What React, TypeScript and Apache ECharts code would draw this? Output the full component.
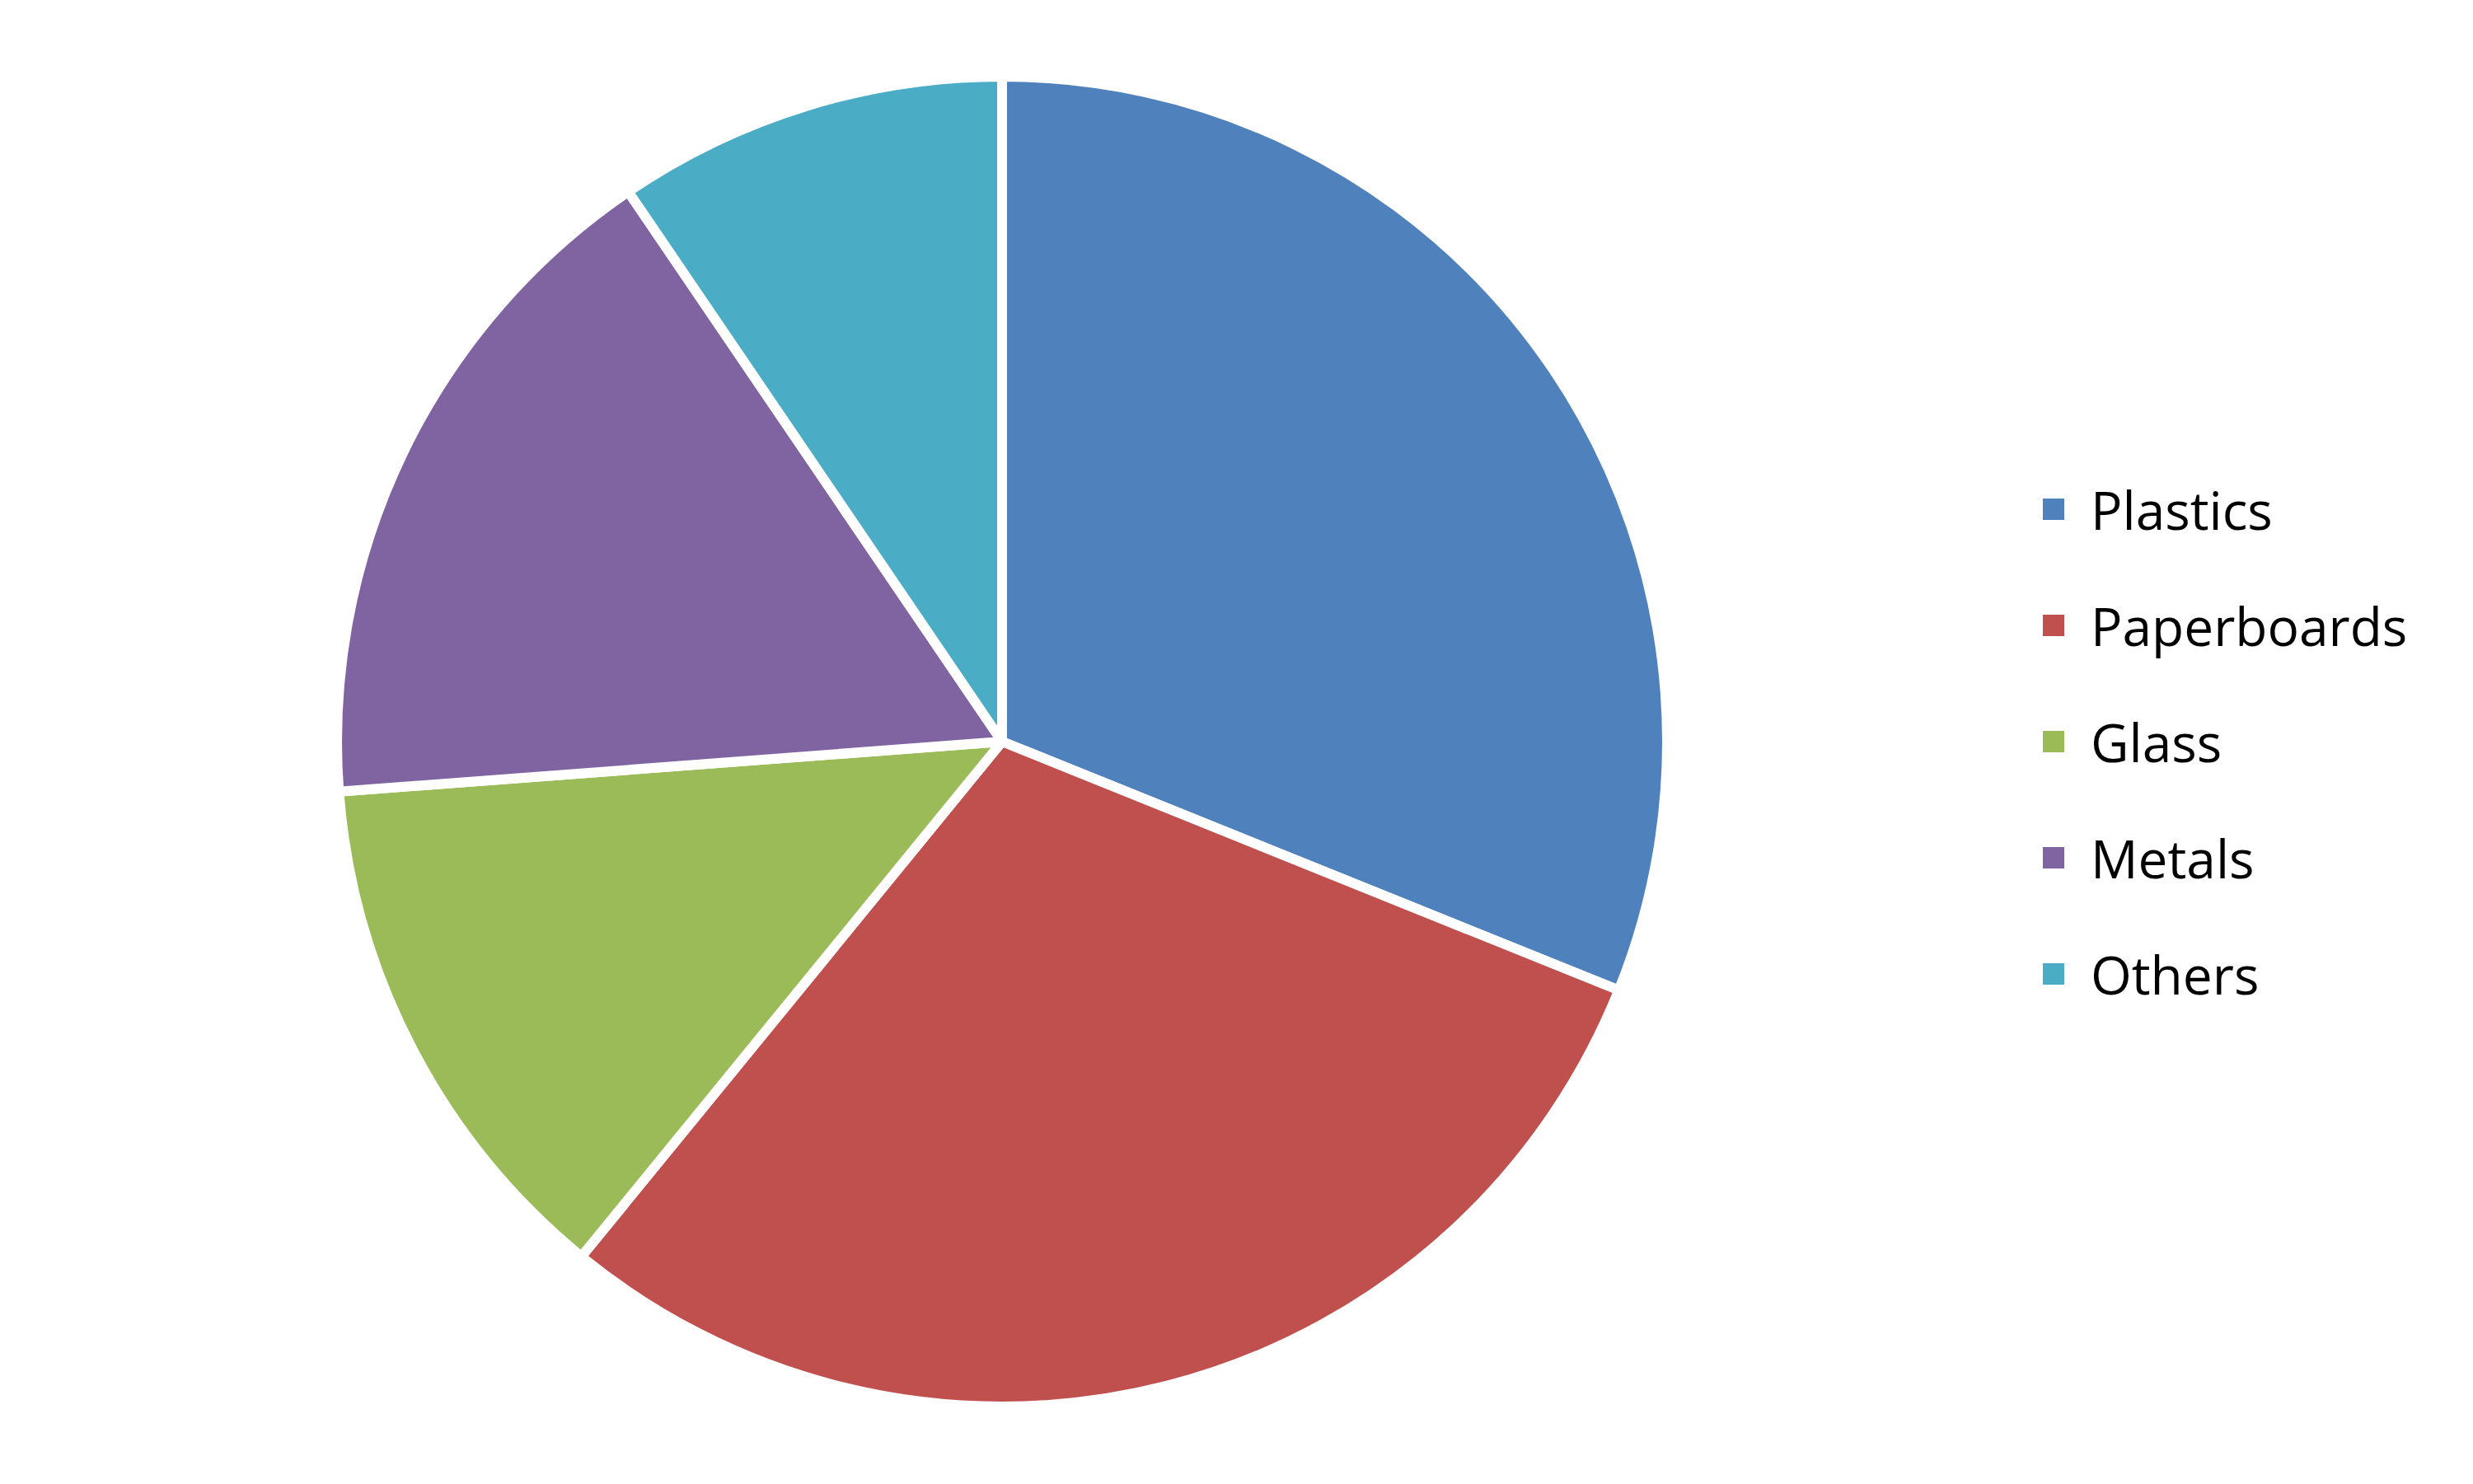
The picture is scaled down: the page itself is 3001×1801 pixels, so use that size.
import React, { useEffect, useRef } from "react";
import * as echarts from "echarts";

const categories = ["Plastics", "Paperboards", "Glass", "Metals", "Others"];
const shares = [31.1, 29.8, 12.9, 16.7, 9.5];
const colors = ["#4F81BD", "#C0504D", "#9BBB59", "#8064A2", "#4BACC6"];

export default function App() {
  const ref = useRef<HTMLDivElement>(null);
  useEffect(() => {
    if (!ref.current) return;
    const chart = echarts.init(ref.current, null, { renderer: "svg" });
    chart.setOption({
      animation: false,
      backgroundColor: "#ffffff",
      color: colors,
      legend: {
        orient: "vertical",
        left: 2477,
        top: 586,
        padding: 0,
        itemWidth: 28,
        itemHeight: 28,
        itemGap: 77,
        icon: "rect",
        data: categories,
        textStyle: {
          fontFamily: "Open Sans",
          fontSize: 64,
          lineHeight: 64,
          color: "#000000",
          padding: [0, 0, 0, 26],
        },
      },
      series: [
        {
          type: "pie",
          center: [1216, 900],
          radius: 807,
          startAngle: 90,
          clockwise: true,
          label: { show: false },
          labelLine: { show: false },
          emphasis: { disabled: true },
          itemStyle: { borderColor: "#ffffff", borderWidth: 12 },
          data: categories.map((name, i) => ({ name, value: shares[i] })),
        },
      ],
    });
    return () => chart.dispose();
  }, []);
  return (
    <div
      ref={ref}
      style={{ position: "fixed", left: 0, top: 0, width: 3001, height: 1801 }}
    />
  );
}
